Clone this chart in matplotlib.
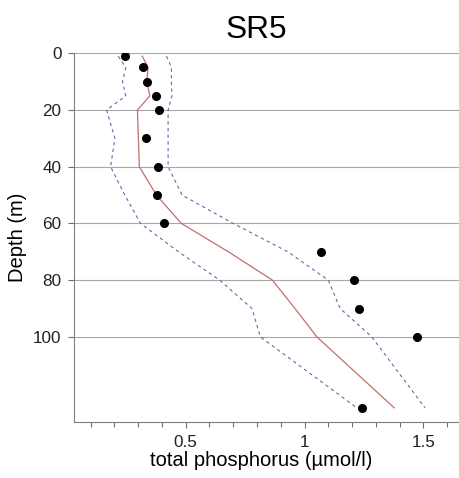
import matplotlib

matplotlib.use("Agg")

import matplotlib.pyplot as plt
from matplotlib.ticker import FixedLocator, MultipleLocator

plt.rcParams["font.family"] = ["Liberation Sans", "DejaVu Sans"]

# observations
obs_depth = [1, 5, 10, 15, 20, 30, 40, 50, 60, 70, 80, 90, 100, 125]
obs_tp = [0.244, 0.322, 0.336, 0.374, 0.388, 0.335, 0.382, 0.381, 0.41,
          1.069, 1.207, 1.231, 1.473, 1.242]

# model profile and envelope
mod_depth = [1, 5, 10, 15, 20, 30, 40, 50, 60, 70, 80, 90, 100, 125]
mod_mid = [0.317, 0.342, 0.336, 0.349, 0.297, 0.301, 0.305, 0.377, 0.482,
           0.68, 0.865, 0.96, 1.052, 1.377]
mod_low = [0.216, 0.248, 0.234, 0.248, 0.167, 0.202, 0.184, 0.244, 0.31,
           0.47, 0.643, 0.779, 0.814, 1.22]
mod_high = [0.419, 0.44, 0.44, 0.442, 0.426, 0.426, 0.426, 0.485, 0.70,
            0.93, 1.10, 1.15, 1.283, 1.507]

y_ticks = [0, 20, 40, 60, 80, 100]
x_ticks = [0.5, 1.0, 1.5]
x_labels = ["0.5", "1", "1.5"]

fig = plt.figure(figsize=(4.59, 4.78), dpi=100)
ax = fig.add_axes([0.1612, 0.1172, 0.8388, 0.7713])

for d in y_ticks:
    ax.axhline(d, color="#a8a8a8", linewidth=0.8, zorder=1)

ax.plot(mod_low, mod_depth, color="#5a6fa8", linewidth=0.8,
        linestyle=(0, (3, 3)), zorder=2)
ax.plot(mod_high, mod_depth, color="#5a6fa8", linewidth=0.8,
        linestyle=(0, (3, 3)), zorder=2)
ax.plot(mod_mid, mod_depth, color="#c0706a", linewidth=0.9, zorder=3)
ax.plot(obs_tp, obs_depth, "o", color="black", markersize=5.5, zorder=4)

ax.set_xlim(0.03, 1.65)
ax.set_ylim(130, 0)

ax.xaxis.set_major_locator(FixedLocator(x_ticks))
ax.set_xticklabels(x_labels)
ax.xaxis.set_minor_locator(MultipleLocator(0.1))
ax.set_yticks(y_ticks)

ax.tick_params(axis="both", which="major", labelsize=12.3, color="#707070",
               labelcolor="#222222", width=0.8)
ax.tick_params(axis="y", which="major", length=4.5, pad=4.5)
ax.tick_params(axis="x", which="major", length=4.3, pad=5)
ax.tick_params(axis="x", which="minor", color="#707070", length=3.6, width=0.8)

for side in ("top", "right"):
    ax.spines[side].set_visible(False)
for side in ("left", "bottom"):
    ax.spines[side].set_color("#808080")
    ax.spines[side].set_linewidth(0.8)

ax.set_xlabel("total phosphorus (µmol/l)", fontsize=14.5)
ax.set_ylabel("Depth (m)", fontsize=14.5)
ax.xaxis.set_label_coords(0.487, -0.08)
ax.yaxis.set_label_coords(-0.122, 0.5)

fig.text(256 / 459, 1 - 30 / 478, "SR5", fontsize=22.8, ha="center", va="center")

fig.savefig("out.png", dpi=100)
plt.close(fig)
